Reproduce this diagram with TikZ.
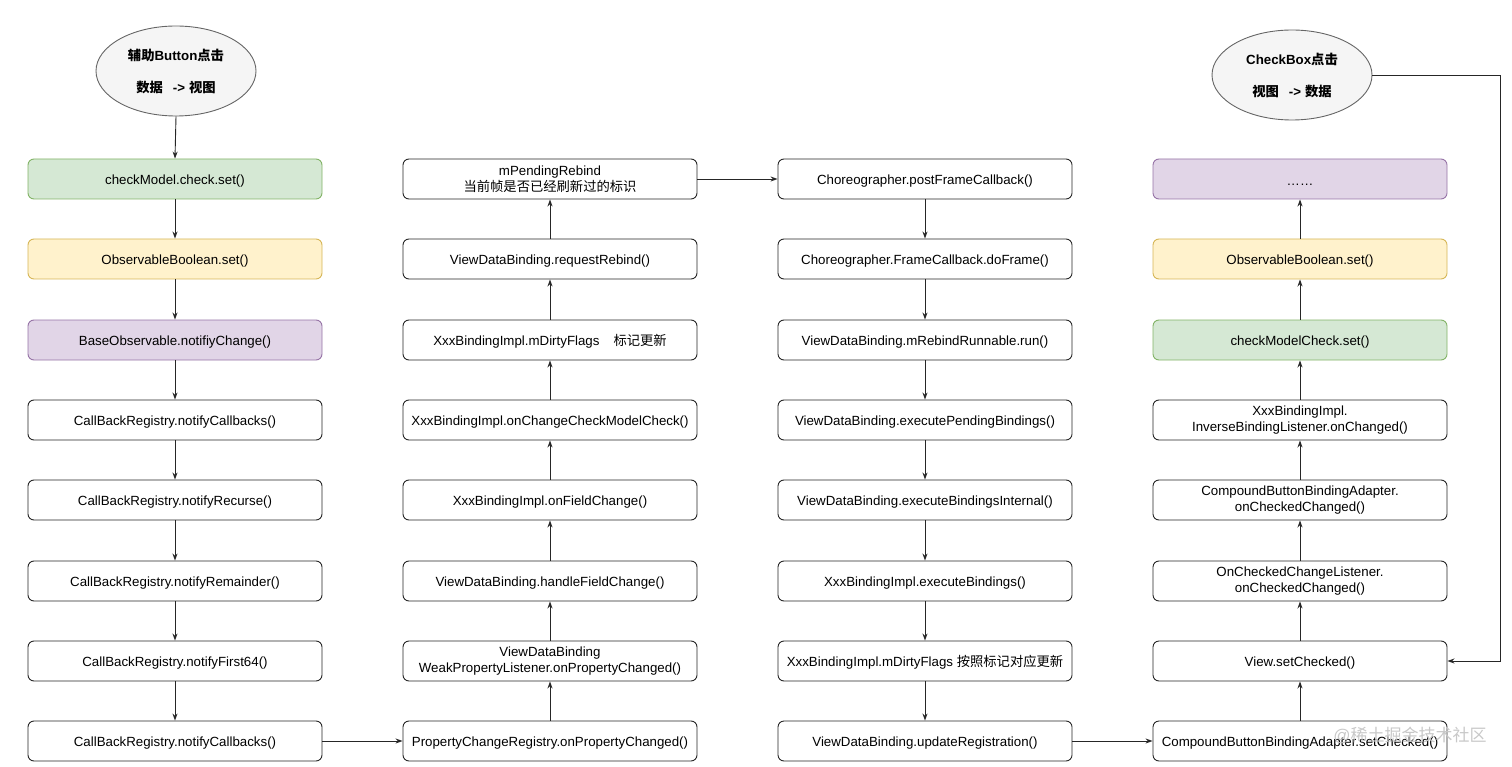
\documentclass[tikz,border=0pt]{standalone}
\usepackage{fontspec}
\setmainfont{Liberation Sans}
\newfontfamily\cjk{Noto Sans CJK SC}
\usetikzlibrary{arrows.meta,shapes.geometric}
\definecolor{gfill}{HTML}{D5E8D4}\definecolor{gline}{HTML}{82B366}
\definecolor{yfill}{HTML}{FFF2CC}\definecolor{yline}{HTML}{D6B656}
\definecolor{pfill}{HTML}{E1D5E7}\definecolor{pline}{HTML}{9673A6}
\definecolor{efill}{HTML}{F5F5F5}\definecolor{eline}{HTML}{666666}
\definecolor{wm}{HTML}{C8C8C8}
\begin{document}
\begin{tikzpicture}[x=1pt,y=-1pt,
  box/.style={draw=black!85,line width=0.9pt,rounded corners=6pt,minimum width=294pt,minimum height=40pt,inner sep=0pt,align=center,font=\fontsize{13.3}{16}\selectfont,execute at begin node={\rule{0pt}{14pt}}},
  gbox/.style={box,draw=gline,fill=gfill},
  ybox/.style={box,draw=yline,fill=yfill},
  pbox/.style={box,draw=pline,fill=pfill},
  oval/.style={ellipse,draw=eline,fill=efill,line width=0.9pt,minimum width=160pt,minimum height=90pt,inner sep=0pt,align=center,font=\fontsize{13.3}{16}\selectfont\bfseries},
  arr/.style={-{Stealth[length=7pt,width=5pt]},line width=0.9pt,black!85}]
\useasboundingbox (0,0) rectangle (1512,767);
% ellipses
\node[oval] (e1) at (176,71) {{\cjk 辅助}Button{\cjk 点击}\\[16pt]{\cjk 数据}\hspace{10pt}->\hspace{4pt}{\cjk 视图}};
\node[oval] (e2) at (1292,75) {CheckBox{\cjk 点击}\\[16pt]{\cjk 视图}\hspace{10pt}->\hspace{4pt}{\cjk 数据}};
% column 1
\node[gbox] (a1) at (175,179) {checkModel.check.set()};
\node[ybox] (a2) at (175,259) {ObservableBoolean.set()};
\node[pbox] (a3) at (175,340) {BaseObservable.notifiyChange()};
\node[box] (a4) at (175,420) {CallBackRegistry.notifyCallbacks()};
\node[box] (a5) at (175,500) {CallBackRegistry.notifyRecurse()};
\node[box] (a6) at (175,581) {CallBackRegistry.notifyRemainder()};
\node[box] (a7) at (175,661) {CallBackRegistry.notifyFirst64()};
\node[box] (a8) at (175,741) {CallBackRegistry.notifyCallbacks()};
% column 2
\node[box] (b1) at (550,179) {mPendingRebind\\{\cjk 当前帧是否已经刷新过的标识}};
\node[box] (b2) at (550,259) {ViewDataBinding.requestRebind()};
\node[box] (b3) at (550,340) {XxxBindingImpl.mDirtyFlags\hspace{14pt}{\cjk 标记更新}};
\node[box] (b4) at (550,420) {XxxBindingImpl.onChangeCheckModelCheck()};
\node[box] (b5) at (550,500) {XxxBindingImpl.onFieldChange()};
\node[box] (b6) at (550,581) {ViewDataBinding.handleFieldChange()};
\node[box] (b7) at (550,661) {ViewDataBinding\\WeakPropertyListener.onPropertyChanged()};
\node[box] (b8) at (550,741) {PropertyChangeRegistry.onPropertyChanged()};
% column 3
\node[box] (c1) at (925,179) {Choreographer.postFrameCallback()};
\node[box] (c2) at (925,259) {Choreographer.FrameCallback.doFrame()};
\node[box] (c3) at (925,340) {ViewDataBinding.mRebindRunnable.run()};
\node[box] (c4) at (925,420) {ViewDataBinding.executePendingBindings()};
\node[box] (c5) at (925,500) {ViewDataBinding.executeBindingsInternal()};
\node[box] (c6) at (925,581) {XxxBindingImpl.executeBindings()};
\node[box] (c7) at (925,661) {XxxBindingImpl.mDirtyFlags {\cjk 按照标记对应更新}};
\node[box] (c8) at (925,741) {ViewDataBinding.updateRegistration()};
% column 4
\node[pbox] (d1) at (1300,179) {……};
\node[ybox] (d2) at (1300,259) {ObservableBoolean.set()};
\node[gbox] (d3) at (1300,340) {checkModelCheck.set()};
\node[box] (d4) at (1300,420) {XxxBindingImpl.\\InverseBindingListener.onChanged()};
\node[box] (d5) at (1300,500) {CompoundButtonBindingAdapter.\\onCheckedChanged()};
\node[box] (d6) at (1300,581) {OnCheckedChangeListener.\\onCheckedChanged()};
\node[box] (d7) at (1300,661) {View.setChecked()};
\node[box] (d8) at (1300,741) {CompoundButtonBindingAdapter.setChecked()};
% connectors
\draw[arr] (e1.south) -- (a1.north);
\foreach \i/\j in {1/2,2/3,3/4,4/5,5/6,6/7,7/8}{
  \draw[arr] (a\i.south) -- (a\j.north);
  \draw[arr] (b\j.north) -- (b\i.south);
  \draw[arr] (c\i.south) -- (c\j.north);
  \draw[arr] (d\j.north) -- (d\i.south);
}
\draw[arr] (a8.east) -- (b8.west);
\draw[arr] (b1.east) -- (c1.west);
\draw[arr] (c8.east) -- (d8.west);
\draw[arr] (e2.east) -- ++(128,0) |- (d7.east);
% watermark
\node[text=wm,font=\fontsize{17}{20}\selectfont,inner sep=0pt] (wm) at (1410,735) {@{\cjk 稀土掘金技术社区}};
\end{tikzpicture}
\end{document}
